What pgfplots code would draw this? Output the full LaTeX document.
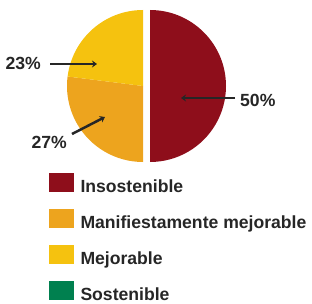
\documentclass[border=0pt]{standalone}
\usepackage{pgfplots}
\pgfplotsset{compat=1.18}
\usetikzlibrary{arrows.meta}
\usepackage{fontspec}
\setmainfont{Liberation Sans}
\definecolor{cRed}{HTML}{8E0E1B}
\definecolor{cOra}{HTML}{EDA41E}
\definecolor{cYel}{HTML}{F5C20F}
\definecolor{cGrn}{HTML}{00804F}
\definecolor{txt}{HTML}{262626}
% data (percent)
\def\vA{50}% Insostenible
\def\vB{27}% Manifiestamente mejorable
\def\vC{23}% Mejorable
\def\vD{0}%  Sostenible
\begin{document}
\begin{tikzpicture}
\useasboundingbox (0,0) rectangle (312pt,303pt);
\begin{axis}[
  at={(0,0)}, anchor=south west,
  scale only axis, width=312pt, height=303pt,
  xmin=0, xmax=312, ymin=0, ymax=303,
  hide axis, clip=false,
  legend style={at={(axis cs:49,130)}, anchor=north west, draw=none, fill=none,
    font=\bfseries\fontsize{17.6}{20}\selectfont, text=txt, row sep=12.8pt,
    inner sep=0pt, outer sep=0pt,
    /tikz/every odd column/.style={column sep=4.5pt}},
  legend cell align=left,
  legend image code/.code={\fill[#1, draw=none] (0pt,-5pt) rectangle (25pt,14pt);},
]
\pgfmathsetmacro\aA{90-3.6*\vA}
\pgfmathsetmacro\aB{\aA-3.6*\vB}
\pgfmathsetmacro\aC{\aB-3.6*\vC}
\addlegendimage{fill=cRed, draw=none}\addlegendentry{Insostenible}
\addlegendimage{fill=cOra, draw=none}\addlegendentry{Manifiestamente mejorable}
\addlegendimage{fill=cYel, draw=none}\addlegendentry{Mejorable}
\addlegendimage{fill=cGrn, draw=none}\addlegendentry{Sostenible}
\fill[cRed] (axis cs:150,217) -- ++(90:76pt) arc[start angle=90, end angle=\aA, radius=76pt] -- cycle;
\fill[cOra] (axis cs:143,217) -- ++(\aA:76pt) arc[start angle=\aA, end angle=\aB, radius=76pt] -- cycle;
\fill[cYel] (axis cs:143,217) -- ++(\aB:76pt) arc[start angle=\aB, end angle=\aC, radius=76pt] -- cycle;
\draw[txt, line width=2.5pt, -{Stealth[length=5pt,width=7pt]}] (axis cs:50,239) -- (axis cs:97,239);
\draw[txt, line width=2.5pt, -{Stealth[length=5pt,width=7pt]}] (axis cs:235,205) -- (axis cs:181,205);
\draw[txt, line width=2.5pt, -{Stealth[length=5pt,width=7pt]}] (axis cs:72,169) -- (axis cs:105,186);
\node[anchor=east, text=txt, font=\bfseries\fontsize{17.6}{20}\selectfont, inner sep=0pt] at (axis cs:41,240) {23\%};
\node[anchor=west, text=txt, font=\bfseries\fontsize{17.6}{20}\selectfont, inner sep=0pt] at (axis cs:240,203) {50\%};
\node[anchor=east, text=txt, font=\bfseries\fontsize{17.6}{20}\selectfont, inner sep=0pt] at (axis cs:67,161) {27\%};
\end{axis}
\end{tikzpicture}
\end{document}
